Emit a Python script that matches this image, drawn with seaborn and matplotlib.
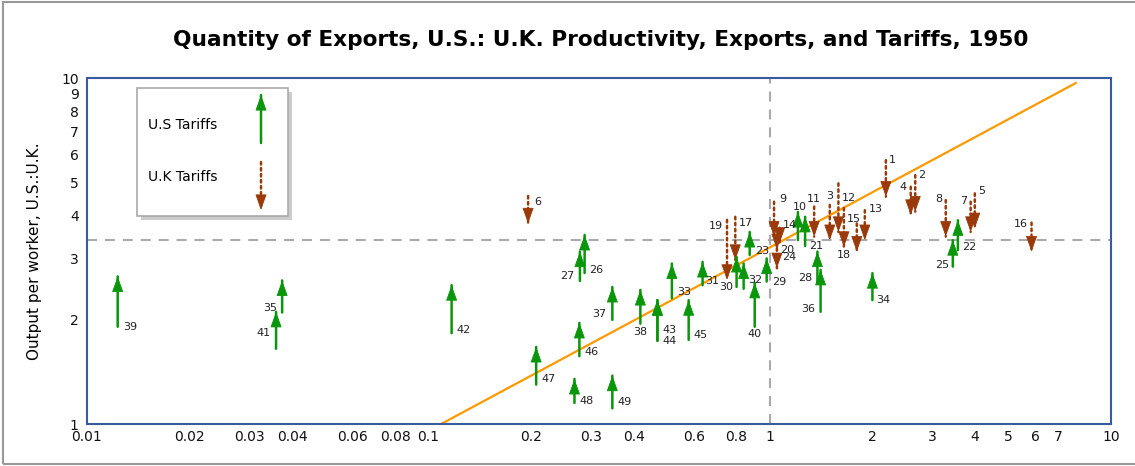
import matplotlib
matplotlib.use("Agg")
import matplotlib.pyplot as plt
import seaborn as sns
import pandas as pd
from matplotlib.patches import Rectangle
from matplotlib.ticker import FixedLocator, FixedFormatter, NullLocator

# U.K. tariff arrows (point down): label, x, tail (top), head (bottom)
uk_labels = ["1", "2", "3", "4", "5", "6", "7", "8", "9", "11", "12", "13",
             "14", "15", "16", "17", "18", "19", "20", "24"]
uk_x = [2.19, 2.67, 1.50, 2.59, 3.99, 0.196, 3.88, 3.28, 1.03, 1.35, 1.59, 1.90,
        1.07, 1.80, 5.85, 0.793, 1.65, 0.75, 1.05, 1.05]
uk_tail = [5.79, 5.24, 4.30, 4.85, 4.64, 4.56, 4.39, 4.44, 4.39, 4.25, 4.96, 4.15,
           3.69, 3.80, 3.82, 3.97, 4.21, 3.89, 3.45, 3.22]
uk_head = [4.54, 4.11, 3.40, 4.02, 3.68, 3.80, 3.59, 3.48, 3.48, 3.48, 3.59, 3.40,
           3.34, 3.15, 3.15, 2.98, 3.25, 2.61, 3.20, 2.82]

# U.S. tariff arrows (point up): label, x, tail (bottom), head (top)
us_labels = ["10", "21", "22", "23", "25", "26", "27", "28", "29", "30", "31", "32",
             "33", "34", "35", "36", "37", "38", "39", "40", "41", "42", "43", "44",
             "45", "46", "47", "48", "49"]
us_x = [1.21, 1.27, 3.56, 0.874, 3.44, 0.287, 0.278, 1.38, 0.98, 0.80, 0.636, 0.839,
        0.517, 2.00, 0.0373, 1.41, 0.346, 0.418, 0.0123, 0.904, 0.0358, 0.117, 0.469, 0.469,
        0.579, 0.277, 0.207, 0.268, 0.346]
us_tail = [3.40, 3.27, 3.18, 3.08, 2.85, 2.73, 2.59, 2.55, 2.58, 2.49, 2.52, 2.46,
           2.31, 2.28, 2.10, 2.11, 2.00, 1.95, 1.91, 1.91, 1.65, 1.83, 1.74, 1.74,
           1.75, 1.57, 1.30, 1.15, 1.11]
us_head = [4.10, 3.97, 3.88, 3.59, 3.40, 3.52, 3.15, 3.15, 3.01, 3.04, 2.94, 2.91,
           2.91, 2.73, 2.60, 2.79, 2.49, 2.44, 2.67, 2.56, 2.11, 2.52, 2.28, 2.28,
           2.28, 1.96, 1.67, 1.35, 1.38]

# fitted line and reference levels
fit_x = [0.109, 7.9]
fit_y = [1.0, 9.68]
ref_x = 1.0
ref_y = 3.4

x_ticks = [0.01, 0.02, 0.03, 0.04, 0.05, 0.06, 0.07, 0.08, 0.09, 0.1, 0.2, 0.3, 0.4,
           0.5, 0.6, 0.7, 0.8, 0.9, 1, 2, 3, 4, 5, 6, 7, 10]
x_ticklabels = ["0.01", "0.02", "0.03", "0.04", "", "0.06", "", "0.08", "", "0.1",
                "0.2", "0.3", "0.4", "", "0.6", "", "0.8", "", "1", "2", "3", "4",
                "5", "6", "7", "10"]
y_ticks = [1, 2, 3, 4, 5, 6, 7, 8, 9, 10]
y_ticklabels = ["1", "2", "3", "4", "5", "6", "7", "8", "9", "10"]

# label placement relative to the arrow tail: (ha, dx px, dy px)
label_pos = {
    "1": ("left", 3, 0), "2": ("left", 3, 0), "3": ("center", 0, 9), "4": ("right", -4, 0),
    "5": ("left", 3, 2), "6": ("left", 6, -6), "7": ("right", -3, 1), "8": ("right", -3, 1),
    "9": ("left", 5, 3), "11": ("center", 0, 8), "12": ("left", 3, -15), "13": ("left", 4, 1),
    "14": ("left", 3, 3), "15": ("center", -3, 4), "16": ("right", -4, -1), "17": ("left", 4, -6),
    "18": ("center", 0, -47), "19": ("right", -4, -6), "20": ("left", 3, -12), "24": ("left", 5, -9),
    "10": ("center", 2, 33), "21": ("left", 4, 0), "22": ("left", 4, 3), "23": ("left", 5, 4),
    "25": ("right", -4, 2), "26": ("left", 5, 3), "27": ("right", -6, 5), "28": ("right", -5, 5),
    "29": ("left", 5, 0), "30": ("right", -3, 0), "31": ("left", 3, 4), "32": ("left", 5, 9),
    "33": ("left", 5, 6), "34": ("left", 4, 0), "35": ("right", -5, 5), "36": ("right", -5, 3),
    "37": ("right", -6, 6), "38": ("center", 0, -8), "39": ("left", 5, 0), "40": ("center", 0, -7),
    "41": ("right", -5, 16), "42": ("left", 5, 3), "43": ("left", 5, 11), "44": ("left", 5, 0),
    "45": ("left", 5, 5), "46": ("left", 5, 4), "47": ("left", 5, 6), "48": ("left", 5, 2),
    "49": ("left", 5, 6),
}

GREEN = "#0a960a"
BROWN = "#9a3a0a"
AXBLUE = "#3a5aa0"
ORANGE = "#ff9900"
DASHGRAY = "#aaaaaa"
HEAD = "-|>,head_length=1.0,head_width=0.36"
DOTS = (0, (1, 1.4))

sns.set_theme(style="white")
plt.rcParams["font.family"] = ["DejaVu Sans"]
plt.rcParams["text.color"] = "black"
plt.rcParams["axes.labelcolor"] = "black"

fig = plt.figure(figsize=(11.35, 4.66), dpi=100)
ax = fig.add_axes([87 / 1135, 42 / 466, 1024 / 1135, 346 / 466])
ax.set_xscale("log")
ax.set_yscale("log")
ax.set_xlim(0.01, 10)
ax.set_ylim(1, 10)

# reference lines
ax.axhline(ref_y, color=DASHGRAY, lw=1.5, dashes=(4.8, 3.8), zorder=1)
ax.axvline(ref_x, color=DASHGRAY, lw=1.5, dashes=(4.8, 3.8), zorder=1)

fit = pd.DataFrame({"x": fit_x, "y": fit_y})
sns.lineplot(data=fit, x="x", y="y", color=ORANGE, lw=1.6, ax=ax, zorder=2)


def arrow(x, t, h, color, style, coords="data", z=3):
    # shaft
    ax.annotate("", xy=(x, h), xytext=(x, t), xycoords=coords, textcoords=coords,
                arrowprops=dict(arrowstyle="-", color=color, lw=1.8, linestyle=style,
                                shrinkA=0, shrinkB=0), zorder=z)
    # solid head
    d = -2 if h > t else 2
    ax.annotate("", xy=(x, h), xycoords=coords, xytext=(0, d), textcoords="offset points",
                arrowprops=dict(arrowstyle=HEAD, color=color, lw=0.6,
                                shrinkA=0, shrinkB=0, mutation_scale=10), zorder=z)


def draw_arrows(labels, xs, tails, heads, color, style, fs=8):
    for lab, x, t, h in zip(labels, xs, tails, heads):
        arrow(x, t, h, color, style)
        ha, dx, dy = label_pos[lab]
        ax.annotate(lab, xy=(x, t), xytext=(dx, dy), textcoords="offset pixels",
                    ha=ha, va="center", fontsize=fs, color="#222222", zorder=4)


draw_arrows(uk_labels, uk_x, uk_tail, uk_head, BROWN, DOTS)
draw_arrows(us_labels, us_x, us_tail, us_head, GREEN, "-")

# axes styling
ax.xaxis.set_major_locator(FixedLocator(x_ticks))
ax.xaxis.set_major_formatter(FixedFormatter(x_ticklabels))
ax.xaxis.set_minor_locator(NullLocator())
ax.yaxis.set_major_locator(FixedLocator(y_ticks))
ax.yaxis.set_major_formatter(FixedFormatter(y_ticklabels))
ax.yaxis.set_minor_locator(NullLocator())
ax.tick_params(axis="both", direction="in", length=7, width=1.5, color=AXBLUE,
               labelsize=10, labelcolor="#111111", pad=4)
ax.tick_params(axis="y", pad=6)
for sp in ax.spines.values():
    sp.set_color(AXBLUE)
    sp.set_linewidth(1.5)
ax.set_xlabel("")
ax.set_ylabel("Output per worker, U.S.:U.K.", fontsize=11, labelpad=14)

fig.text(601 / 1135, 1 - 40 / 466, "Quantity of Exports, U.S.: U.K. Productivity, Exports, and Tariffs, 1950",
         ha="center", va="center", fontsize=15.6, fontweight="bold", color="black")

# legend box with shadow
x0, x1 = (137 - 87) / 1024, (288 - 87) / 1024
y0, y1 = (424 - 216) / 346, (424 - 88) / 346
ax.add_patch(Rectangle((x0 + 4 / 1024, y0 - 4 / 346), x1 - x0, y1 - y0, transform=ax.transAxes,
                       facecolor="#cccccc", edgecolor="none", zorder=5))
ax.add_patch(Rectangle((x0, y0), x1 - x0, y1 - y0, transform=ax.transAxes,
                       facecolor="white", edgecolor="#aaaaaa", lw=1.2, zorder=6))
ax.text((148 - 87) / 1024, (424 - 125) / 346, "U.S Tariffs", transform=ax.transAxes,
        ha="left", va="center", fontsize=10, zorder=7)
ax.text((148 - 87) / 1024, (424 - 177) / 346, "U.K Tariffs", transform=ax.transAxes,
        ha="left", va="center", fontsize=10, zorder=7)
lx = (261 - 87) / 1024
arrow(lx, (424 - 143) / 346, (424 - 95) / 346, GREEN, "-", coords="axes fraction", z=7)
arrow(lx, (424 - 162) / 346, (424 - 210) / 346, BROWN, DOTS, coords="axes fraction", z=7)

# outer frame
fig.add_artist(Rectangle((3 / 1135, 2 / 466), 1.0, 1 - 4 / 466, transform=fig.transFigure,
                         fill=False, edgecolor="#999999", lw=1.5))

fig.savefig("out.png", dpi=100)
